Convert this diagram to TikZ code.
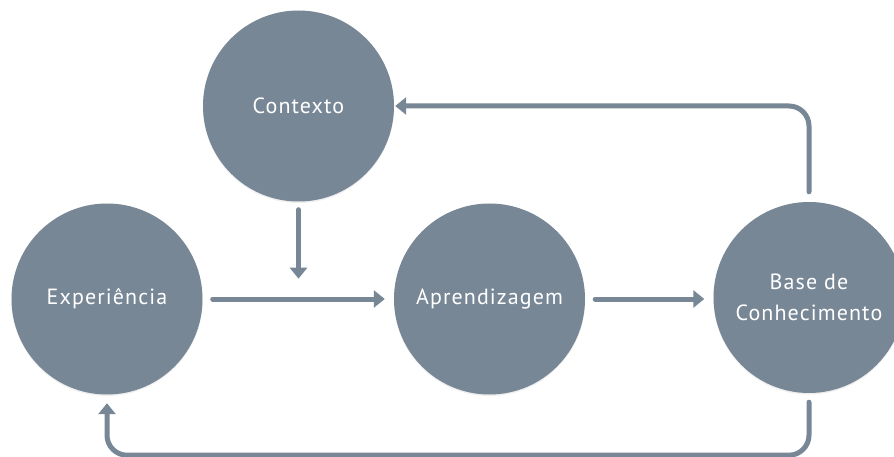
\documentclass[tikz,border=0pt]{standalone}
\usepackage{fontspec}
\setmainfont[LetterSpace=5]{PT Sans}
\usetikzlibrary{arrows.meta,shadows,calc}
\definecolor{slate}{HTML}{788796}
\begin{document}
\begin{tikzpicture}[x=1pt,y=-1pt,
  stage/.style={circle, fill=slate, minimum size=191pt, inner sep=0pt,
    text=white, font=\fontsize{22}{31}\selectfont, align=center,
    drop shadow={shadow xshift=0pt, shadow yshift=-1.5pt, opacity=0.12}},
  flow/.style={draw=slate, line width=5pt, line cap=round,
    rounded corners=20pt, -{Triangle[length=11pt,width=17pt]}}]
\clip (0,0) rectangle (894,457);
\fill[white] (0,0) rectangle (894,457);

\node[stage] (ctx)  at (298.5,106) {Contexto};
\node[stage] (exp)  at (107,299)   {Experiência};
\node[stage] (apr)  at (489.5,299) {Aprendizagem};
\node[stage] (base) at (809,297.5) {Base de\\Conhecimento};

% context feeds into the experience-to-learning flow
\coordinate (ctxdrop) at ($(ctx.south)+(0,77)$);
\draw[flow] ($(ctx.south)+(0,8)$) -- (ctxdrop);

\draw[flow] ($(exp.east)+(10,0)$) -- ($(apr.west)+(-9,0)$);
\draw[flow] ($(apr.east)+(10,0)$) -- ($(base.west |- apr.east)+(-9,0)$);

% feedback loops from the knowledge base
\draw[flow] ($(base.north)+(0,-10)$) |- ($(ctx.east)+(1,0)$);
\draw[flow] ($(base.south)+(0,9)$) -- ++(0,53) -| ($(exp.south)+(0,8.5)$);
\end{tikzpicture}
\end{document}
